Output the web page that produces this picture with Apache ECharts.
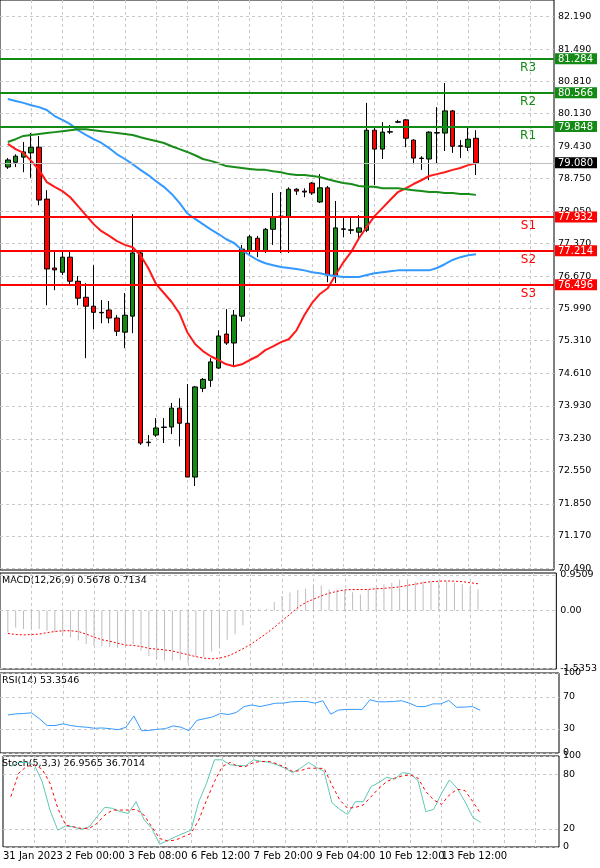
<!DOCTYPE html>
<html>
<head>
<meta charset="utf-8">
<script src="https://cdn.jsdelivr.net/npm/echarts@6/dist/echarts.min.js"></script>
<style>
  html, body { margin: 0; padding: 0; background: #fff; }
  #main { width: 600px; height: 868px; }
</style>
</head>
<body>
<div id="main"></div>
<script>
// candles: [open, close, low, high], 4H bars
const candles = [
  [78.99,79.14,78.95,79.18],[79.09,79.22,78.99,79.26],[79.20,79.31,78.88,79.52],[79.29,79.41,78.76,79.71],
  [79.41,78.29,78.18,79.65],[78.31,76.83,76.06,78.50],[76.85,76.81,76.38,77.19],[76.76,77.08,76.70,77.21],
  [77.08,76.57,76.47,77.19],[76.57,76.21,76.06,76.68],[76.23,76.04,74.94,76.53],[76.04,75.91,75.55,76.91],
  [75.91,75.90,75.68,76.17],[75.96,75.79,75.68,76.15],[75.79,75.51,75.41,75.85],[75.49,75.85,75.15,76.32],
  [75.83,77.17,75.47,77.99],[77.17,73.14,73.10,77.23],[73.16,73.15,73.07,73.31],[73.31,73.46,73.27,73.67],
  [73.48,73.47,73.14,73.67],[73.48,73.88,73.33,73.99],[73.88,73.56,73.07,74.09],[73.56,72.42,72.42,74.39],
  [72.42,74.33,72.23,74.35],[74.30,74.49,74.22,74.52],[74.47,74.86,74.33,74.94],[74.73,75.41,74.71,75.53],
  [75.45,75.26,75.22,75.98],[75.26,75.85,74.75,75.96],[75.83,77.25,75.72,77.34],[77.21,77.51,77.12,77.55],
  [77.48,77.21,77.08,77.53],[77.21,77.67,77.17,77.70],[77.67,77.93,77.34,78.44],[77.93,77.95,77.17,78.46],
  [77.93,78.52,77.17,78.56],[78.52,78.48,78.40,78.54],[78.48,78.46,78.35,78.54],[78.65,78.44,78.40,78.67],
  [78.25,78.55,78.23,78.84],[78.55,76.70,76.55,78.59],[76.70,77.70,76.53,78.27],[77.67,77.68,77.50,77.91],
  [77.65,77.66,77.57,77.91],[77.61,77.70,77.46,77.97],[77.65,79.77,77.61,80.35],[79.77,79.37,78.61,79.84],
  [79.37,79.73,79.16,79.94],[79.73,79.74,79.69,79.88],[79.94,79.95,79.92,79.99],[79.99,79.60,79.41,80.01],
  [79.56,79.18,79.05,79.58],[79.18,79.17,78.93,79.22],[79.16,79.73,78.71,79.75],[79.71,79.72,79.07,80.26],
  [79.71,80.18,79.33,80.77],[80.18,79.43,79.29,80.20],[79.43,79.44,79.18,79.56],[79.41,79.58,79.33,79.84],
  [79.60,79.08,78.82,79.77]
];
const maFast = [79.48,79.37,79.29,79.12,78.93,78.67,78.57,78.48,78.35,78.16,77.97,77.78,77.63,77.53,77.42,77.34,
  77.29,77.12,76.85,76.51,76.32,76.13,75.89,75.49,75.24,75.09,74.98,74.90,74.81,74.77,74.81,74.90,74.98,75.11,75.19,
  75.28,75.34,75.53,75.85,76.11,76.30,76.42,76.70,76.97,77.19,77.48,77.72,77.95,78.12,78.29,78.46,78.54,78.63,78.71,
  78.80,78.84,78.88,78.93,78.97,79.03,79.07];
const maMid = [80.43,80.39,80.35,80.30,80.26,80.20,80.07,79.99,79.90,79.77,79.67,79.58,79.50,79.39,79.26,79.16,
  79.05,78.93,78.82,78.69,78.57,78.42,78.23,78.01,77.89,77.78,77.67,77.57,77.46,77.38,77.23,77.12,77.02,76.95,76.91,
  76.87,76.85,76.83,76.80,76.76,76.74,76.70,76.68,76.66,76.66,76.66,76.70,76.74,76.76,76.78,76.80,76.80,76.80,76.80,
  76.80,76.85,76.93,77.02,77.08,77.12,77.14];
const maSlow = [79.52,79.58,79.65,79.67,79.69,79.71,79.73,79.75,79.77,79.79,79.79,79.77,79.75,79.73,79.71,79.69,
  79.67,79.62,79.58,79.54,79.50,79.43,79.37,79.31,79.24,79.16,79.12,79.07,79.01,78.99,78.97,78.95,78.93,78.93,78.90,
  78.88,78.84,78.82,78.82,78.80,78.78,78.73,78.69,78.65,78.63,78.59,78.57,78.57,78.54,78.54,78.54,78.52,78.50,78.48,
  78.46,78.46,78.44,78.44,78.42,78.42,78.40];
const macdHist = [-0.58,-0.45,-0.49,-0.49,-0.49,-0.54,-0.58,-0.67,-0.71,-0.80,-0.89,-0.93,-0.95,-0.98,-1.00,-0.89,
  -0.89,-1.07,-1.22,-1.29,-1.33,-1.33,-1.31,-1.40,-1.24,-1.23,-1.09,-1.01,-0.78,-0.63,-0.39,-0.01,0.04,0.04,0.23,0.39,
  0.48,0.55,0.58,0.70,0.67,0.56,0.56,0.55,0.49,0.43,0.55,0.61,0.70,0.74,0.83,0.78,0.76,0.78,0.78,0.76,0.78,0.74,0.70,
  0.63,0.5678];
const macdSignal = [-0.61,-0.64,-0.65,-0.64,-0.63,-0.59,-0.56,-0.54,-0.54,-0.56,-0.63,-0.71,-0.78,-0.82,-0.87,-0.92,
  -0.93,-0.96,-1.01,-1.03,-1.05,-1.08,-1.13,-1.18,-1.23,-1.27,-1.29,-1.27,-1.22,-1.13,-1.02,-0.90,-0.76,-0.61,-0.45,
  -0.27,-0.10,0.08,0.21,0.30,0.39,0.46,0.51,0.55,0.56,0.56,0.56,0.58,0.59,0.61,0.63,0.67,0.70,0.74,0.77,0.78,0.79,
  0.78,0.77,0.74,0.7134];
const rsi = [47.6,48.9,49.4,50.2,42.9,34.3,34.3,36.5,34.3,33.0,32.2,30.9,31.3,30.4,29.1,32.2,46.3,27.8,28.3,29.6,
  30.4,33.9,32.2,27.8,40.8,42.9,45.1,49.4,48.1,50.6,58.0,60.1,58.0,60.1,62.3,62.3,64.0,64.4,64.4,62.3,65.3,48.5,53.7,
  54.5,54.5,54.5,66.6,64.0,64.0,64.4,65.3,62.3,58.0,58.0,61.4,61.4,65.7,57.1,57.5,58.0,53.35];
const stochK = [88.5,92.9,92.9,90.3,71.9,40.6,18.5,23.0,22.2,19.3,22.2,33.3,43.6,42.5,38.8,36.9,49.8,30.3,20.4,3.1,
  6.8,11.2,14.9,18.5,49.8,70.1,95.8,95.8,90.3,89.6,89.2,95.8,94.0,93.2,90.3,86.6,81.8,86.6,92.9,87.7,82.9,48.7,41.4,
  35.8,49.8,49.8,66.4,70.8,76.7,74.5,81.8,80.4,73.0,38.8,41.4,59.0,73.7,64.5,49.8,32.5,26.96];
const stochD = [55.3,81.1,88.5,90.3,85.5,70.1,42.5,24.1,22.2,20.4,20.4,25.9,35.1,40.6,40.6,40.6,41.4,35.1,22.2,9.3,
  6.8,7.5,11.2,14.9,29.6,51.7,71.9,88.5,92.9,88.5,88.5,92.9,94.0,94.0,91.4,87.7,82.9,84.0,86.6,86.6,86.3,68.2,51.7,
  42.5,43.6,46.1,55.3,64.5,71.9,75.6,78.2,79.3,75.6,60.9,51.7,46.9,57.2,63.4,62.0,49.8,36.7];
const priceTicks = [70.49,71.17,71.85,72.55,73.23,73.93,74.61,75.31,75.99,76.67,77.37,78.05,78.75,79.43,80.13,80.81,81.49,82.19];
const resistance = [['R1',79.848],['R2',80.566],['R3',81.284]];
const support = [['S1',77.932],['S2',77.214],['S3',76.496]];
const lastPrice = 79.080;
const timeLabels = {0:'31 Jan 2023',8:'2 Feb 00:00',16:'3 Feb 08:00',24:'6 Feb 12:00',32:'7 Feb 20:00',40:'9 Feb 04:00',48:'10 Feb 12:00',56:'13 Feb 12:00'};

const N = 72; // 1 pad slot + 61 bars + empty right margin
const cats = [];
for (let i = 0; i < N; i++) cats.push(String(i));
const pad = (arr) => ['-'].concat(arr);

const chart = echarts.init(document.getElementById('main'));
const font = 'Tahoma, "DejaVu Sans", sans-serif';
const gridL = -2, gridR = 41;
const green = '#138a13', red = '#ff0000';

function xAx(gi, showLabel) {
  return {
    type: 'category', gridIndex: gi, data: cats, boundaryGap: false,
    axisLine: { show: false }, axisTick: { show: false },
    axisLabel: {
      show: showLabel, interval: 0, align: 'left', fontSize: 10, fontFamily: font, color: '#000', margin: 4,
      formatter: (v, i) => timeLabels[i] || ''
    },
    splitLine: { show: true, interval: (i) => i % 4 === 0 && i > 0, lineStyle: { color: '#c8c8c8', type: [3, 3] } }
  };
}
function yAx(gi, min, max, ticks, fmt) {
  return {
    type: 'value', gridIndex: gi, min: min, max: max, position: 'right',
    axisLine: { show: false }, axisTick: { show: false, customValues: ticks },
    axisLabel: { customValues: ticks, fontSize: 9.5, fontFamily: font, color: '#000', margin: 4, formatter: fmt },
    splitLine: { show: true, lineStyle: { color: '#c8c8c8', type: [3, 3] } }
  };
}

// value boxes drawn as labels of a second price axis
const boxValues = resistance.map(d => d[1]).concat(support.map(d => d[1]), [lastPrice]);
const boxStyle = (bg) => ({ color: '#fff', backgroundColor: bg, fontSize: 10, fontFamily: font, padding: [1, 4, 0, 3] });
const boxAxis = {
  type: 'value', gridIndex: 0, min: 70.45, max: 82.53, position: 'right',
  axisLine: { show: false }, axisTick: { show: false }, splitLine: { show: false },
  axisLabel: {
    customValues: boxValues, margin: 1,
    formatter: (v) => {
      const s = v.toFixed(3);
      if (v === lastPrice) return '{k|' + s + '}';
      return (v > lastPrice ? '{g|' : '{r|') + s + '}';
    },
    rich: { g: boxStyle(green), r: boxStyle(red), k: boxStyle('#000') }
  }
};

const lineMark = (list, color) => ({
  symbol: 'none', silent: true,
  lineStyle: { color: color, width: 2, type: 'solid' },
  label: { show: true, position: 'insideEndBottom', distance: [18, 3], color: color, fontSize: 12, fontFamily: font,
    formatter: (p) => p.name },
  data: list.map(d => ({ name: d[0], yAxis: d[1] }))
});

chart.setOption({
  animation: false,
  grid: [
    { left: gridL, right: gridR, top: 0, height: 570, show: true, borderColor: '#000', borderWidth: 1 },
    { left: gridL, right: gridR, top: 573, height: 96, show: true, borderColor: '#000', borderWidth: 1 },
    { left: gridL, right: gridR, top: 673, height: 80, show: true, borderColor: '#000', borderWidth: 1 },
    { left: gridL, right: gridR, top: 756, height: 91, show: true, borderColor: '#000', borderWidth: 1 }
  ],
  xAxis: [xAx(0, false), xAx(1, false), xAx(2, false), xAx(3, true)],
  yAxis: [
    yAx(0, 70.45, 82.53, priceTicks, (v) => v.toFixed(3)),
    yAx(1, -1.56, 1.0, [-1.5353, 0, 0.9509], (v) => v === 0 ? '0.00' : String(v)),
    yAx(2, 0, 100, [0, 30, 70, 100], (v) => String(v)),
    yAx(3, 0, 100, [0, 20, 80, 100], (v) => String(v)),
    boxAxis
  ],
  graphic: [
    { type: 'text', left: 2, top: 576, style: { text: 'MACD(12,26,9) 0.5678 0.7134', fontSize: 9.5, fontFamily: font, fill: '#000' } },
    { type: 'text', left: 2, top: 676, style: { text: 'RSI(14) 53.3546', fontSize: 9.5, fontFamily: font, fill: '#000' } },
    { type: 'text', left: 2, top: 759, style: { text: 'Stoch(5,3,3) 26.9565 36.7014', fontSize: 9.5, fontFamily: font, fill: '#000' } }
  ],
  series: [
    {
      type: 'candlestick', xAxisIndex: 0, yAxisIndex: 0, data: pad(candles), barWidth: 5,
      itemStyle: { color: green, color0: red, borderColor: '#000', borderColor0: '#000', borderWidth: 1 },
      markLine: {
        symbol: 'none', silent: true,
        lineStyle: { color: '#c0c0c0', width: 1, type: 'solid' },
        label: { show: false },
        data: [{ yAxis: lastPrice }]
      }
    },
    { type: 'line', xAxisIndex: 0, yAxisIndex: 0, data: pad(maFast), showSymbol: false, lineStyle: { color: '#ff1a1a', width: 2 } },
    { type: 'line', xAxisIndex: 0, yAxisIndex: 0, data: pad(maMid), showSymbol: false, lineStyle: { color: '#3399ff', width: 2 } },
    { type: 'line', xAxisIndex: 0, yAxisIndex: 0, data: pad(maSlow), showSymbol: false, lineStyle: { color: '#1a8c1a', width: 2 } },
    { type: 'line', xAxisIndex: 0, yAxisIndex: 0, data: [], markLine: lineMark(resistance, green) },
    { type: 'line', xAxisIndex: 0, yAxisIndex: 0, data: [], markLine: lineMark(support, red) },
    { type: 'bar', xAxisIndex: 1, yAxisIndex: 1, data: pad(macdHist), barWidth: 1, itemStyle: { color: '#bdbdbd' } },
    { type: 'line', xAxisIndex: 1, yAxisIndex: 1, data: pad(macdSignal), showSymbol: false, lineStyle: { color: '#ff0000', width: 1, type: [2, 2] } },
    { type: 'line', xAxisIndex: 2, yAxisIndex: 2, data: pad(rsi), showSymbol: false, lineStyle: { color: '#3399ff', width: 1 } },
    { type: 'line', xAxisIndex: 3, yAxisIndex: 3, data: pad(stochK), showSymbol: false, lineStyle: { color: '#5fc7b4', width: 1 } },
    { type: 'line', xAxisIndex: 3, yAxisIndex: 3, data: pad(stochD), showSymbol: false, lineStyle: { color: '#ff0000', width: 1, type: [3, 3] } }
  ]
});
</script>
</body>
</html>
